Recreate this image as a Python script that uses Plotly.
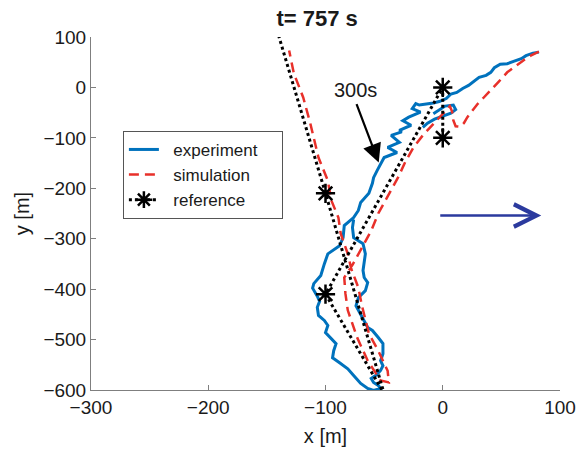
import plotly.graph_objects as go

# ---------------- data ----------------
exp_x = [82, 77, 71, 67, 61, 55, 49, 44, 41, 37, 31, 25, 22, 17, 12, 7, 3, -3, -8, -14, -20,
         -23, -26, -19, -29, -34, -27, -37, -35, -44, -37, -47, -39, -50, -53, -56, -59, -60,
         -63, -70, -72, -76, -84, -85, -88, -98, -101, -104, -110, -111, -107, -105, -107,
         -106, -101, -98, -100, -96, -91, -93, -94, -88, -81, -76, -70, -64, -59, -53, -55,
         -59, -61, -57, -53, -51, -53, -51, -51, -55, -60, -64, -68, -72, -74, -72, -66, -64,
         -67, -68, -66, -68, -76, -77, -76]
exp_y = [70, 68, 63, 57, 52, 47, 46, 39, 30, 24, 20, 10, 4, -2, -10, -13, -22, -28, -31, -33, -35,
         -32, -42, -49, -59, -66, -75, -85, -88, -95, -109, -119, -129, -139, -151, -165, -179, -190,
         -210, -228, -244, -258, -274, -298, -314, -330, -350, -373, -389, -398, -414, -424, -436,
         -452, -462, -472, -486, -496, -508, -522, -536, -546, -558, -571, -587, -597, -601, -597, -591,
         -585, -577, -571, -561, -552, -542, -528, -508, -496, -482, -476, -458, -442, -433, -417, -403, -387,
         -377, -363, -330, -310, -298, -278, -262]

curl_x = [-8, -3, 2, 9, 11, 7, 0, -7, -13, -17]
curl_y = [-52, -45, -37, -35, -44, -51, -57, -63, -71, -79]

sim_x = [82, 75, 69, 62, 55, 48, 41, 35, 30, 25, 21, 18, 15, 11, 9, 8, 6, 3, -2, -10, -17, -25,
         -32, -38, -46, -50, -55, -61, -70, -77, -84, -83, -81, -73, -64, -53, -46, -47, -55, -63,
         -69, -72, -78, -81, -87, -89, -95, -98, -106, -113, -119, -127, -131]
sim_y = [71, 63, 54, 42, 30, 12, -6, -20, -32, -46, -59, -71, -78, -77, -65, -48, -37, -45, -58, -79, -95, -119,
         -148, -178, -213, -231, -250, -284, -323, -352, -377, -409, -442, -496, -542, -581, -585, -562, -522, -488,
         -432, -397, -360, -330, -290, -258, -224, -185, -139, -71, -20, 28, 73]

ref_x = [0, 0, -100, -50, -100, -140]
ref_y = [-100, 0, -410, -607, -210, 103]

wp_x = [0, 0, -100, -100]
wp_y = [0, -100, -210, -410]

x_ticks = [-300, -200, -100, 0, 100]
y_ticks = [100, 0, -100, -200, -300, -400, -500, -600]

FONT = "Liberation Sans, Arial, Helvetica, sans-serif"
BLUE = "#0072BD"
RED = "#E8302A"
TXT = "#1a1a1a"
NB = "\u00a0"

star = dict(symbol="asterisk-open", size=16, color="black",
            line=dict(color="black", width=2.5))

fig = go.Figure()
fig.add_trace(go.Scatter(x=exp_x, y=exp_y, mode="lines", name=NB * 2 + "experiment" + NB * 4,
                         line=dict(color=BLUE, width=3)))
fig.add_trace(go.Scatter(x=curl_x, y=curl_y, mode="lines", showlegend=False,
                         line=dict(color=BLUE, width=3)))
fig.add_trace(go.Scatter(x=sim_x, y=sim_y, mode="lines", name=NB * 2 + "simulation",
                         line=dict(color=RED, width=2.5, dash="10px,6px")))
fig.add_trace(go.Scatter(x=ref_x, y=ref_y, mode="lines", showlegend=False,
                         line=dict(color="black", width=3, dash="dot")))
fig.add_trace(go.Scatter(x=wp_x, y=wp_y, mode="markers", showlegend=False, marker=star))
fig.add_trace(go.Scatter(x=[None], y=[None], mode="lines+markers", name=NB * 2 + "reference",
                         line=dict(color="black", width=3, dash="dot"),
                         marker=dict(symbol="asterisk-open", size=14, color="black",
                                     line=dict(color="black", width=2.5))))

# 300s arrow
fig.add_annotation(x=-54.6, y=-149, ax=-74, ay=-30, axref="x", ayref="y", xref="x", yref="y",
                   text="", showarrow=True, arrowhead=2, arrowsize=1.7, arrowwidth=2.2,
                   arrowcolor="black", standoff=0)
fig.add_annotation(x=-74, y=-6, xref="x", yref="y", text="300s", showarrow=False,
                   font=dict(family=FONT, size=20, color=TXT))
# blue direction arrow
fig.add_annotation(x=84, y=-254, ax=-3.4, ay=-254, axref="x", ayref="y", xref="x", yref="y",
                   text="", showarrow=True, arrowhead=5, arrowsize=1.7, arrowwidth=2.6,
                   arrowcolor="#2B3A9E", standoff=0)

fig.update_layout(
    width=577, height=450,
    margin=dict(l=91, r=17, t=37, b=60, autoexpand=False),
    paper_bgcolor="white", plot_bgcolor="white",
    font=dict(family=FONT, size=19, color=TXT),
    title=dict(text="<b>t= 757 s</b>", x=0.482, xref="paper", xanchor="center",
               y=0.96, yanchor="middle",
               font=dict(family=FONT, size=22, color=TXT)),
    legend=dict(x=0.068, y=0.734, xanchor="left", yanchor="top",
                bgcolor="white", bordercolor="#555555", borderwidth=1,
                font=dict(family=FONT, size=17, color=TXT)),
    xaxis=dict(range=[-300, 100], tickvals=x_ticks, ticks="inside", ticklen=5,
               tickcolor="#7f7f7f", showline=True, linecolor="#7f7f7f", linewidth=1,
               showgrid=False, zeroline=False, automargin=False,
               title=dict(text="x [m]", standoff=12, font=dict(size=20)),
               tickfont=dict(size=19)),
    yaxis=dict(range=[-600, 100], tickvals=y_ticks, ticks="inside", ticklen=5,
               tickcolor="#7f7f7f", showline=True, linecolor="#7f7f7f", linewidth=1,
               showgrid=False, zeroline=False, automargin=False,
               title=dict(text="y [m]", standoff=8, font=dict(size=20)),
               tickfont=dict(size=19)),
)

fig.write_html("out.html")
